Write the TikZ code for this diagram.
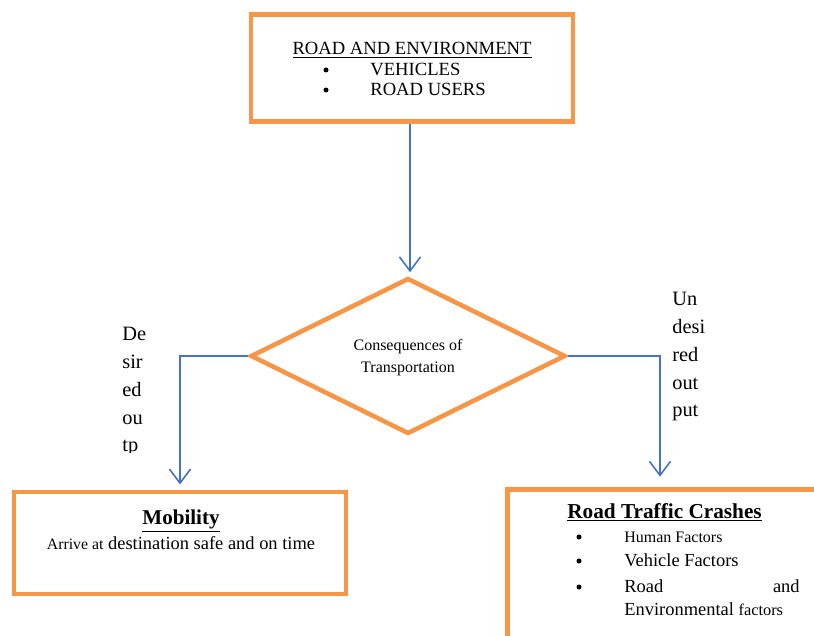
\documentclass[tikz,border=0pt]{standalone}
\usepackage{fontspec}
\setmainfont{Liberation Serif}
\usetikzlibrary{shapes.geometric,arrows.meta}
\definecolor{boxorange}{RGB}{247,150,70}
\definecolor{flowblue}{RGB}{68,114,196}
\newcommand{\fsz}[1]{\fontsize{#1}{1.2\dimexpr#1pt\relax}\selectfont}

\begin{document}
\begin{tikzpicture}[x=0.02cm,y=-0.02cm,
  box/.style={draw=boxorange, line width=2.6pt, fill=white, rectangle, inner sep=0pt},
  decision/.style={draw=boxorange, line width=2.6pt, fill=white, diamond, inner sep=0pt,
    minimum width=6.3cm, minimum height=3.12cm},
  flow/.style={draw=flowblue, line width=0.9pt, -{Straight Barb[length=8pt,width=12pt]}},
  txt/.style={inner sep=0pt, anchor=base},
  dot/.style={circle, fill=black, inner sep=0pt, minimum size=0.1cm},
  side/.style={inner sep=0pt, anchor=north west, align=left, font=\fsz{11.6}}]
\clip (0,0) rectangle (814,635);

% boxes
\node[box, minimum width=6.44cm, minimum height=2.14cm] (roadenv) at (412,68) {};
\node[decision] (cons) at (408,356) {};
\node[box, minimum width=6.64cm, minimum height=2.04cm] (mobility) at (180,543) {};
\node[box, minimum width=6.4cm, minimum height=3.6cm] (crash) at (667.5,579.5) {};

% top box text
\node[txt, font=\fsz{10.6}] (roadtitle) at (412,55) {\underline{ROAD AND ENVIRONMENT}};
\node[dot] (b1) at (326,70) {};
\node[dot] (b2) at (326,90) {};
\node[txt, anchor=base west, font=\fsz{10.6}] (vehicles) at (370,75) {VEHICLES};
\node[txt, anchor=base west, font=\fsz{10.6}] (users) at (370,95) {ROAD USERS};

% decision text
\node[txt, font=\fsz{9.1}] (cons1) at (408,350) {Consequences of};
\node[txt, font=\fsz{9.1}] (cons2) at (408,372) {Transportation};

% mobility text
\node[txt, font=\bfseries\fsz{12}] (mobtitle) at (181,524) {\underline{Mobility}};
\node[txt, font=\fsz{10.5}] (mobtext) at (181,549) {{\fsz{9}Arrive at} destination safe and on time};

% crash text
\node[txt, font=\bfseries\fsz{12.1}] (crashtitle) at (664.5,518) {\underline{Road Traffic Crashes}};
\node[dot] (c1) at (579,537) {};
\node[dot] (c2) at (579,561) {};
\node[dot] (c3) at (579,587) {};
\node[txt, anchor=base west, font=\fsz{9.1}] (human) at (624,542) {Human Factors};
\node[txt, anchor=base west, font=\fsz{10.5}] (vehicle) at (624,566) {Vehicle Factors};
\node[txt, anchor=base west, font=\fsz{10.5}] (road) at (624,592) {Road};
\node[txt, anchor=base east, font=\fsz{10.5}] (and) at (800,592) {and};
\node[txt, anchor=base west, font=\fsz{10.5}] (env) at (624,615) {Environmental {\fsz{9.3}factors}};

% side labels
\begin{scope}
\clip (100,300) rectangle (170,452);
\node[side] (desired) at (122,327) {De\\[1.9pt]sir\\[1.9pt]ed\\[1.9pt]ou\\[1.9pt]tp};
\end{scope}
\node[side] (undesired) at (672,292) {Un\\[1.9pt]desi\\[1.9pt]red\\[1.9pt]out\\[1.9pt]put};

% connectors
\draw[flow, shorten >=2pt] ([xshift=-0.04cm]roadenv.south) -- ([xshift=-0.04cm]roadenv.south |- cons.north);
\draw[flow, shorten >=3pt] (cons.west) -| (mobility.north);
\draw[flow, shorten >=6pt] (cons.east) -| ([xshift=-0.15cm]crash.north);
\end{tikzpicture}
\end{document}
